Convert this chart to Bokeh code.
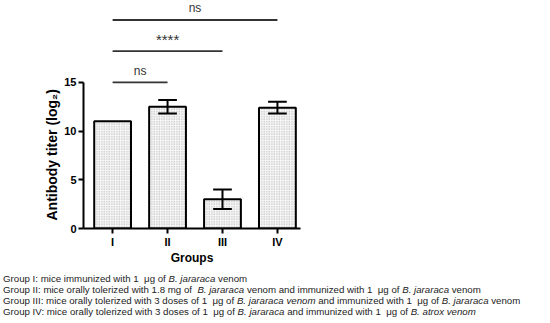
from bokeh.plotting import figure
from bokeh.models import Range1d, FixedTicker, Div, Title
from bokeh.layouts import column
from bokeh.embed import file_html
from bokeh.resources import INLINE
from bokeh.core.properties import value

# ---- data ----
groups = ["I", "II", "III", "IV"]
titer = [11.0, 12.5, 3.0, 12.4]
sem = [0.0, 0.7, 1.0, 0.6]
comp_from = ["I", "I", "I"]
comp_to = ["II", "III", "IV"]
comp_label = ["ns", "****", "ns"]
y_ticks = [0, 5, 10, 15]
y_label = "Antibody titer (log\u2082)"
x_label = "Groups"
captions = [
    "Group I: mice immunized with 1&nbsp; \u03bcg of <i>B. jararaca</i> venom",
    "Group II: mice orally tolerized with 1.8 mg of &nbsp;<i>B. jararaca</i> venom and immunized with 1&nbsp; \u03bcg of <i>B. jararaca</i> venom",
    "Group III: mice orally tolerized with 3 doses of 1&nbsp; \u03bcg of <i>B. jararaca venom</i> and immunized with 1&nbsp; \u03bcg of <i>B. jararaca</i> venom",
    "Group IV: mice orally tolerized with 3 doses of 1&nbsp; \u03bcg of <i>B. jararaca</i> and immunized with 1&nbsp; \u03bcg of <i>B. atrox venom</i>",
]

FONT = "Liberation Sans"
xpos = [i + 1 for i in range(len(groups))]
idx = {g: i + 1 for i, g in enumerate(groups)}

p = figure(frame_width=217, frame_height=228,
           x_range=Range1d(0.47, 4.42), y_range=Range1d(0, 23.4),
           output_backend="svg", toolbar_location=None,
           min_border_left=83, min_border_right=10, min_border_top=0,
           min_border_bottom=38)
p.outline_line_color = None
p.xgrid.visible = False
p.ygrid.visible = False
p.background_fill_color = "white"

# bars
p.vbar(x=xpos, top=titer, bottom=0, width=0.67,
       fill_color="#f7f7f7", hatch_pattern="dot", hatch_color="#a8a8a8",
       hatch_scale=2.5, hatch_weight=0.8,
       line_color="black", line_width=2)

# error bars (only non-zero)
ex = [x for x, s in zip(xpos, sem) if s > 0]
elo = [t - s for t, s in zip(titer, sem) if s > 0]
ehi = [t + s for t, s in zip(titer, sem) if s > 0]
cap = 0.17
p.segment(x0=ex, x1=ex, y0=elo, y1=ehi, line_color="black", line_width=2)
p.segment(x0=[x - cap for x in ex], x1=[x + cap for x in ex], y0=ehi, y1=ehi,
          line_color="black", line_width=2)
p.segment(x0=[x - cap for x in ex], x1=[x + cap for x in ex], y0=elo, y1=elo,
          line_color="black", line_width=2)

# significance lines
base, step = 15.0, 3.2
levels = [base + step * i for i in range(len(comp_from))]
cx0 = [idx[a] for a in comp_from]
cx1 = [idx[b] for b in comp_to]
p.segment(x0=cx0, x1=cx1, y0=levels, y1=levels, line_color="#333333", line_width=1.8)
mids = [(a + b) / 2 for a, b in zip(cx0, cx1)]
ly = [lv + 1.2 for lv in levels]
sizes = ["15px" if lab.startswith("*") else "12px" for lab in comp_label]
p.text(x=mids, y=ly, text=comp_label, text_align="center", text_baseline="middle",
       text_font=value(FONT), text_font_size=sizes, text_color="#333333")

# axes
for ax in (p.xaxis[0], p.yaxis[0]):
    ax.axis_line_width = 2
    ax.axis_line_color = "black"
    ax.major_tick_line_width = 2
    ax.major_tick_out = 5
    ax.major_tick_in = 0
    ax.minor_tick_line_color = None
    ax.major_label_text_font = FONT
    ax.major_label_text_font_style = "bold"
    ax.major_label_text_font_size = "11px"
    ax.major_label_text_color = "black"
    ax.axis_label_text_font = FONT
    ax.axis_label_text_font_style = "bold"
    ax.axis_label_text_color = "black"

p.yaxis.ticker = FixedTicker(ticks=y_ticks)
p.yaxis.bounds = (0, 15)
p.yaxis.major_label_standoff = 2

# y-axis title placed alongside the drawn (0-15) part of the axis
p.add_layout(Title(text=y_label, align="left", offset=8, standoff=4,
                   text_font=FONT, text_font_style="bold",
                   text_font_size="14px", text_color="black"), "left")

p.xaxis.ticker = FixedTicker(ticks=xpos)
p.xaxis.major_label_overrides = {x: g for x, g in zip(xpos, groups)}
p.xaxis.major_label_standoff = 2
p.xaxis.axis_label = x_label
p.xaxis.axis_label_text_font_size = "12px"
p.xaxis.axis_label_standoff = 0

line_html = "".join(
    '<div style="height:10.9px;line-height:10.9px;white-space:nowrap;">%s</div>' % c
    for c in captions)
div = Div(text=line_html, width=540, margin=(7, 0, 0, 3),
          styles={"font-family": "'Liberation Sans', Arial, sans-serif",
                  "font-size": "9.7px", "line-height": "10.9px",
                  "color": "#222222"})

layout = column(p, div, spacing=0)
open("out.html", "w").write(file_html(layout, INLINE))
